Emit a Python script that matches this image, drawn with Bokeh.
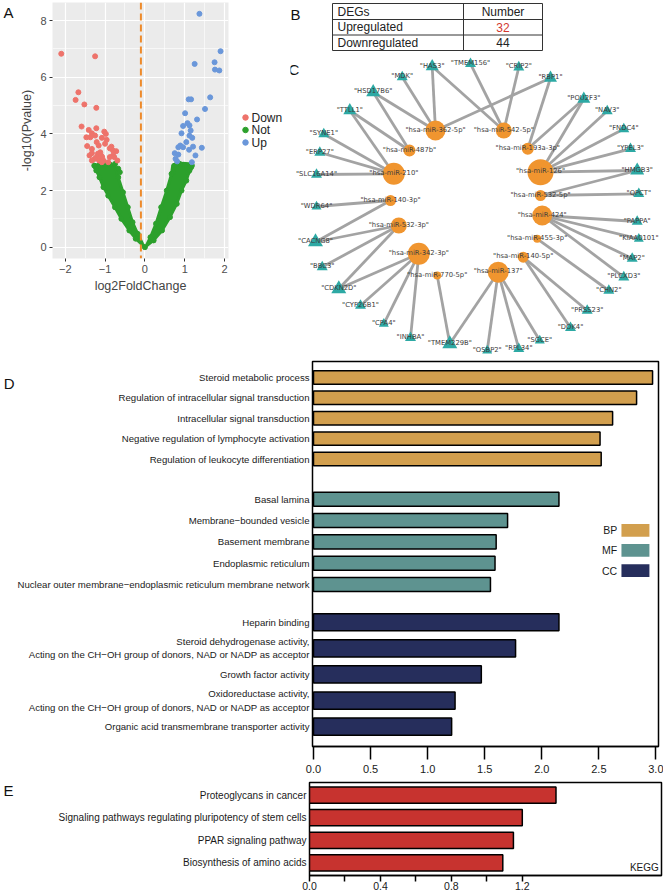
from bokeh.plotting import figure
from bokeh.models import Range1d, FixedTicker, LinearAxis, Span, NumeralTickFormatter
from bokeh.layouts import column, row
from bokeh.embed import file_html
from bokeh.resources import INLINE
from bokeh.core.properties import value

FONT = "Liberation Sans"

# ---------------- Panel A : volcano plot ----------------
down_x = [-2.10, -1.25, -1.67, -1.74, -1.52, -1.22, -1.59, -1.41, -1.22, -1.02, -0.98, -1.33, -1.37, -1.47,
          -1.08, -0.96, -1.21, -1.16, -1.45, -0.84, -0.88, -1.33, -0.80, -1.12, -0.72, -1.39, -1.18, -1.10,
          -0.80, -1.33, -1.21, -1.12, -1.07, -0.77, -0.69, -1.26, -1.04, -1.15, -1.00, -1.25, -0.88, -1.33,
          -1.08, -0.92]
down_y = [6.83, 6.74, 5.47, 5.20, 5.04, 4.92, 4.26, 4.14, 4.20, 4.08, 4.00, 4.02, 3.88, 3.88,
          3.86, 3.79, 3.71, 3.59, 3.57, 3.55, 3.49, 3.47, 3.41, 3.35, 3.39, 3.24, 3.30, 3.24,
          3.24, 3.32, 3.18, 3.16, 3.18, 3.18, 3.06, 3.12, 3.06, 3.06, 3.65, 3.94, 3.18, 3.06,
          3.00, 3.00]
up_x = [1.37, 1.90, 1.75, 1.25, 1.76, 1.87, 1.64, 1.10, 1.16, 1.51, 1.01, 1.31, 1.07, 0.96, 1.12, 1.15,
        0.92, 1.12, 1.19, 1.04, 0.89, 0.96, 0.84, 1.43, 1.11, 1.21, 0.75, 0.84, 1.27, 0.77, 0.81, 1.18]
up_y = [8.24, 6.92, 6.53, 6.47, 6.27, 6.24, 5.29, 5.22, 5.22, 4.88, 4.73, 4.51, 4.38, 4.28, 4.30, 4.12,
        4.02, 3.94, 3.86, 3.71, 3.59, 3.53, 3.53, 3.51, 3.44, 3.55, 3.32, 3.27, 3.24, 3.12, 3.03, 3.00]
# outline of the dense cloud of non-significant genes (left and right arm)
not_left_x = [0.0, -0.23, -0.39, -0.59, -0.75, -0.92, -1.04, -1.14, -1.22, -1.27, -1.12, -0.95, -0.75,
              -0.67, -0.55, -0.43, -0.31, -0.18, -0.06]
not_left_y = [0.0, 0.30, 0.59, 1.00, 1.41, 1.82, 2.12, 2.47, 2.71, 2.88, 2.95, 2.95, 2.88,
              2.47, 1.94, 1.41, 0.88, 0.47, 0.12]
not_right_x = [0.0, 0.22, 0.43, 0.63, 0.80, 0.92, 1.04, 1.12, 1.18, 1.10, 0.95, 0.80, 0.70,
               0.67, 0.55, 0.41, 0.28, 0.14, 0.04]
not_right_y = [0.0, 0.24, 0.59, 1.06, 1.53, 2.00, 2.35, 2.71, 2.88, 2.95, 2.96, 2.92, 2.90,
               2.59, 2.00, 1.41, 0.83, 0.35, 0.06]
not_x = [-1.23, -1.12, -1.00, -0.88, -0.75, -0.67, -0.63, 0.72, 0.75, 0.88, 1.00, 1.08, 1.16,
         -0.23, -0.39, -0.59, -0.75, -0.92, -1.04, -1.14, -1.22, -1.27, -0.67, -0.55, -0.43, -0.31, -0.18,
         0.22, 0.43, 0.63, 0.80, 0.92, 1.04, 1.12, 1.18, 0.67, 0.55, 0.41, 0.28, 0.14, 0.0]
not_y = [2.82, 2.88, 2.92, 2.92, 2.94, 2.77, 2.65, 2.65, 2.88, 2.94, 2.88, 2.65, 2.82,
         0.30, 0.59, 1.00, 1.41, 1.82, 2.12, 2.47, 2.71, 2.88, 2.47, 1.94, 1.41, 0.88, 0.47,
         0.24, 0.59, 1.06, 1.53, 2.00, 2.35, 2.71, 2.88, 2.59, 2.00, 1.41, 0.83, 0.35, 0.0]
fc_line = -0.1
x_ticks_A = [-2, -1, 0, 1, 2]
y_ticks_A = [0, 2, 4, 6, 8]
legend_labels_A = ["Down", "Not", "Up"]

RED, GREEN, BLUE = "#EE736B", "#2CA02C", "#6A97DA"
legend_colors_A = [RED, GREEN, BLUE]


def panel_letter(p, letter, y, standoff, size="15px"):
    """Extra left axis carrying a single tick label used as the panel letter."""
    ax = LinearAxis(ticker=FixedTicker(ticks=[y]), major_label_overrides={y: letter},
                    major_label_text_font=FONT, major_label_text_font_size=size,
                    major_label_text_color="#111111", major_label_standoff=standoff,
                    major_tick_out=0, major_tick_in=0, axis_label_standoff=0,
                    major_tick_line_color=None, minor_tick_line_color=None, axis_line_color=None)
    p.add_layout(ax, "left")


def plain_canvas(width, height, x0, x1, y0, y1):
    p = figure(width=width, height=height, x_range=Range1d(x0, x1), y_range=Range1d(y0, y1),
               output_backend="svg", toolbar_location=None, min_border=0)
    p.axis.visible = False
    p.grid.visible = False
    p.outline_line_color = None
    return p


pA = figure(width=230, height=358, x_range=Range1d(-2.32, 2.10), y_range=Range1d(-0.40, 8.64),
            output_backend="svg", toolbar_location=None,
            min_border_left=48, min_border_right=2, min_border_top=2, min_border_bottom=100)
pA.background_fill_color = "#EBEBEB"
pA.outline_line_color = None
pA.xaxis.ticker = FixedTicker(ticks=x_ticks_A, minor_ticks=[-1.5, -0.5, 0.5, 1.5])
pA.yaxis.ticker = FixedTicker(ticks=y_ticks_A, minor_ticks=[1, 3, 5, 7])
for g in (pA.xgrid, pA.ygrid):
    g.grid_line_color = "white"
    g.grid_line_width = 1.2
    g.minor_grid_line_color = "white"
    g.minor_grid_line_width = 0.6
for ax in (pA.xaxis, pA.yaxis):
    ax.axis_line_color = None
    ax.major_tick_line_color = "#333333"
    ax.major_tick_out = 3
    ax.major_tick_in = 0
    ax.minor_tick_line_color = None
    ax.major_label_text_font_size = "11px"
    ax.major_label_text_color = "#4D4D4D"
    ax.major_label_text_font = FONT
    ax.major_label_standoff = 2
    ax.axis_label_text_font = FONT
    ax.axis_label_text_font_size = "12.5px"
    ax.axis_label_text_font_style = "normal"
    ax.axis_label_standoff = 3
pA.xaxis.axis_label = "log2FoldChange"
pA.yaxis.axis_label = "-log10(Pvalue)"
panel_letter(pA, "A", 8.30, 4)

pA.patch(not_left_x, not_left_y, fill_color=GREEN, line_color=GREEN, line_width=3)
pA.patch(not_right_x, not_right_y, fill_color=GREEN, line_color=GREEN, line_width=3)
pA.scatter(not_x, not_y, size=5, color=GREEN)
pA.scatter(down_x, down_y, size=5, color=RED)
pA.scatter(up_x, up_y, size=5, color=BLUE)
pA.add_layout(Span(location=fc_line, dimension="height", line_color="#EE8A2A",
                   line_width=2, line_dash="7 4"))

# legend of panel A, drawn in its own small canvas (pixel coordinates)
pLeg = plain_canvas(60, 358, 230, 290, 358, 0)
leg_rows = [117, 129.5, 142]
pLeg.scatter(x=[245] * 3, y=leg_rows, size=5.5, color=legend_colors_A)
pLeg.text(x=[251] * 3, y=leg_rows, text=legend_labels_A, text_font=value(FONT), text_font_size="12px",
          text_baseline="middle", text_align="left", text_color="#222222")

# ---------------- Panel B : table, Panel C : network ----------------
table_col1 = ["DEGs", "Upregulated", "Downregulated"]
table_col2 = ["Number", "32", "44"]
table_col2_colors = ["#222222", "#D2382F", "#222222"]

gene_names = ["HAS3", "TMEM156", "CRIP2", "RBP1", "MDK", "HSD17B6", "TTLL1", "SYNE1", "ERP27",
              "SLC16A14", "WDR64", "CACNG8", "BBC3", "CDKN2D", "CYP26B1", "CPA4", "INHBA", "TMEM229B",
              "OSBP2", "RPL34", "SGCE", "DOK4", "PRSS23", "CHN2", "PLCXD3", "MAP2", "KIAA0101", "PAPPA",
              "QPCT", "HMGB3", "YPEL3", "FNDC4", "NAV3", "POU2F3"]
gene_x = [431.7, 470.0, 518.3, 550.0, 401.7, 372.7, 349.3, 323.3, 319.3, 316.0, 316.0, 315.0, 321.7,
          338.3, 360.0, 383.3, 410.0, 449.3, 486.7, 518.3, 539.3, 570.0, 586.7, 608.3, 623.3, 631.7,
          638.3, 636.7, 638.3, 636.7, 630.0, 623.3, 606.7, 583.3]
gene_y = [66.0, 63.3, 66.7, 77.5, 76.5, 91.7, 110.0, 133.5, 152.0, 174.0, 206.0, 241.5, 266.5,
          288.3, 305.0, 323.3, 337.3, 343.3, 350.0, 348.3, 340.0, 327.3, 310.0, 290.0, 276.7, 258.0,
          238.3, 221.0, 193.3, 170.0, 148.3, 128.5, 110.5, 98.5]
gene_size = [13, 11, 11, 13, 11, 14, 13, 11, 11, 11, 10, 15, 11, 15, 11, 10, 11, 15,
             10, 11, 10, 11, 11, 11, 11, 11, 10, 11, 11, 14, 11, 11, 11, 13]

mir_names = ["hsa-miR-362-5p", "hsa-miR-542-5p", "hsa-miR-487b", "hsa-miR-193a-3p", "hsa-miR-210",
             "hsa-miR-126", "hsa-miR-140-3p", "hsa-miR-532-5p", "hsa-miR-532-3p", "hsa-miR-424",
             "hsa-miR-455-3p", "hsa-miR-342-3p", "hsa-miR-140-5p", "hsa-miR-770-5p", "hsa-miR-137"]
mir_x = [435.0, 503.3, 409.0, 527.3, 393.3, 540.0, 390.0, 540.0, 398.3, 541.7, 536.7, 418.3, 522.7, 436.7, 497.7]
mir_y = [130.0, 130.0, 150.0, 148.3, 173.3, 171.7, 200.0, 195.0, 225.0, 215.0, 238.3, 253.3, 256.7, 275.0, 271.7]
mir_size = [20, 16, 12, 12, 22, 26, 11, 11, 16, 20, 8, 22, 11, 8, 21]

edges = [("hsa-miR-362-5p", "HAS3"), ("hsa-miR-362-5p", "MDK"), ("hsa-miR-362-5p", "HSD17B6"),
         ("hsa-miR-362-5p", "RBP1"), ("hsa-miR-542-5p", "HAS3"), ("hsa-miR-542-5p", "TMEM156"),
         ("hsa-miR-542-5p", "CRIP2"), ("hsa-miR-487b", "HSD17B6"), ("hsa-miR-487b", "TTLL1"),
         ("hsa-miR-193a-3p", "RBP1"), ("hsa-miR-193a-3p", "POU2F3"), ("hsa-miR-210", "TTLL1"),
         ("hsa-miR-210", "SYNE1"), ("hsa-miR-210", "ERP27"), ("hsa-miR-210", "SLC16A14"),
         ("hsa-miR-126", "POU2F3"), ("hsa-miR-126", "NAV3"), ("hsa-miR-126", "FNDC4"),
         ("hsa-miR-126", "YPEL3"), ("hsa-miR-126", "HMGB3"), ("hsa-miR-532-5p", "HMGB3"),
         ("hsa-miR-532-5p", "QPCT"), ("hsa-miR-140-3p", "WDR64"), ("hsa-miR-140-3p", "CACNG8"),
         ("hsa-miR-532-3p", "CACNG8"), ("hsa-miR-532-3p", "BBC3"), ("hsa-miR-532-3p", "CDKN2D"),
         ("hsa-miR-424", "PAPPA"), ("hsa-miR-424", "KIAA0101"), ("hsa-miR-424", "MAP2"),
         ("hsa-miR-424", "PLCXD3"), ("hsa-miR-455-3p", "CHN2"), ("hsa-miR-342-3p", "CDKN2D"),
         ("hsa-miR-342-3p", "CYP26B1"), ("hsa-miR-342-3p", "CPA4"), ("hsa-miR-342-3p", "INHBA"),
         ("hsa-miR-140-5p", "PRSS23"), ("hsa-miR-140-5p", "DOK4"), ("hsa-miR-770-5p", "TMEM229B"),
         ("hsa-miR-137", "TMEM229B"), ("hsa-miR-137", "OSBP2"), ("hsa-miR-137", "RPL34"),
         ("hsa-miR-137", "SGCE")]

pBC = plain_canvas(373, 358, 290, 663, 358, 0)

# table geometry (layout only)
t_left, t_mid, t_right = 332, 463, 542
t_rows = [3, 19, 34.5, 50]
pBC.segment(x0=[t_left] * 4, y0=t_rows, x1=[t_right] * 4, y1=t_rows, line_color="#333333", line_width=1)
pBC.segment(x0=[t_left, t_mid, t_right], y0=[t_rows[0]] * 3, x1=[t_left, t_mid, t_right],
            y1=[t_rows[-1]] * 3, line_color="#333333", line_width=1)
row_mid = [(t_rows[i] + t_rows[i + 1]) / 2 for i in range(3)]
pBC.text(x=[t_left + 5] * 3, y=row_mid, text=table_col1, text_font=value(FONT), text_font_size="12px",
         text_baseline="middle", text_align="left", text_color="#222222")
pBC.text(x=[(t_mid + t_right) / 2] * 3, y=row_mid, text=table_col2, text_font=value(FONT),
         text_font_size="12px", text_baseline="middle", text_align="center", text_color=table_col2_colors)
pBC.text(x=[290, 288], y=[5, 60], text=["B", "C"], text_font=value(FONT), text_font_size="15px",
         text_baseline="top", text_color="#111111")

pos = {n: (x, y) for n, x, y in zip(gene_names, gene_x, gene_y)}
pos.update({n: (x, y) for n, x, y in zip(mir_names, mir_x, mir_y)})
pBC.segment(x0=[pos[a][0] for a, b in edges], y0=[pos[a][1] for a, b in edges],
            x1=[pos[b][0] for a, b in edges], y1=[pos[b][1] for a, b in edges],
            line_color="#A3A3A3", line_width=2.8)
pBC.scatter(gene_x, gene_y, marker="triangle", size=gene_size, fill_color="#2DA9A4", line_color=None)
pBC.scatter(mir_x, mir_y, marker="circle", size=mir_size, fill_color="#F0952F", line_color=None)
pBC.text(x=gene_x + mir_x, y=[v - 1 for v in gene_y + mir_y],
         text=['"%s"' % n for n in gene_names + mir_names], text_font=value("DejaVu Sans"),
         text_font_size="6.8px", text_align="center", text_baseline="middle", text_color="#3C3C3C")

# ---------------- Panel D : GO enrichment ----------------
go_terms = ["Steroid metabolic process", "Regulation of intracellular signal transduction",
            "Intracellular signal transduction", "Negative regulation of lymphocyte activation",
            "Regulation of leukocyte differentiation",
            "Basal lamina", "Membrane\u2212bounded vesicle", "Basement membrane", "Endoplasmic reticulum",
            "Nuclear outer membrane\u2212endoplasmic reticulum membrane network",
            "Heparin binding",
            "Steroid dehydrogenase activity,\nActing on the CH\u2212OH group of donors, NAD or NADP as acceptor",
            "Growth factor activity",
            "Oxidoreductase activity,\nActing on the CH\u2212OH group of donors, NAD or NADP as acceptor",
            "Organic acid transmembrane transporter activity"]
go_values = [2.97, 2.83, 2.62, 2.51, 2.52, 2.15, 1.70, 1.60, 1.59, 1.55, 2.15, 1.77, 1.47, 1.24, 1.21]
go_class = ["BP", "BP", "BP", "BP", "BP", "MF", "MF", "MF", "MF", "MF", "CC", "CC", "CC", "CC", "CC"]
class_order = ["BP", "MF", "CC"]
class_colors = {"BP": "#D29F4E", "MF": "#5E9390", "CC": "#262E5C"}
go_x_ticks = [0, 0.5, 1.0, 1.5, 2.0, 2.5, 3.0]

# layout of the bar rows (slot units): each class block has its own row pitch, as in the figure
class_pitch = {"BP": 1.0, "MF": 1.045, "CC": 1.28}
class_start = {"BP": 0.78, "MF": 6.75, "CC": 12.78}
go_pos, go_thick = [], []
count = {c: 0 for c in class_order}
for c in go_class:
    go_pos.append(class_start[c] + count[c] * class_pitch[c])
    go_thick.append(0.66 * class_pitch[c])
    count[c] += 1

pD = figure(width=663, height=421, x_range=Range1d(-0.0088, 3.022), y_range=Range1d(18.87, 0),
            output_backend="svg", toolbar_location=None,
            min_border_left=312, min_border_right=5, min_border_top=3, min_border_bottom=33)
pD.grid.visible = False
pD.outline_line_color = "black"
pD.outline_line_width = 1.5
pD.hbar(y=go_pos, left=0, right=go_values, height=go_thick,
        fill_color=[class_colors[c] for c in go_class], line_color="black", line_width=1.5)
pD.yaxis.ticker = FixedTicker(ticks=go_pos)
pD.yaxis.major_label_overrides = {p: t for p, t in zip(go_pos, go_terms)}
pD.yaxis.major_tick_line_color = None
pD.yaxis.major_tick_out = 0
pD.yaxis.major_tick_in = 0
pD.yaxis.axis_label_standoff = 0
pD.yaxis.minor_tick_line_color = None
pD.yaxis.axis_line_color = None
pD.yaxis.major_label_standoff = 3
pD.yaxis.major_label_text_font = FONT
pD.yaxis.major_label_text_font_size = "9.6px"
pD.yaxis.major_label_text_color = "#1A1A1A"
pD.xaxis.ticker = FixedTicker(ticks=go_x_ticks)
pD.xaxis.formatter = NumeralTickFormatter(format="0.0")
pD.xaxis.axis_line_width = 1.5
pD.xaxis.major_tick_line_width = 1.5
pD.xaxis.major_tick_out = 13
pD.xaxis.major_tick_in = 0
pD.xaxis.minor_tick_line_color = None
pD.xaxis.major_label_standoff = 5
pD.xaxis.major_label_text_font = FONT
pD.xaxis.major_label_text_font_size = "11px"
pD.xaxis.major_label_text_color = "#1A1A1A"
panel_letter(pD, "D", 1.08, 0)
# legend (BP / MF / CC)
leg_y = [8.28, 9.26, 10.25]
pD.rect(x=[2.82] * 3, y=leg_y, width=0.245, height=0.62,
        fill_color=[class_colors[c] for c in class_order], line_color=None)
pD.text(x=[2.66] * 3, y=leg_y, text=class_order, text_font=value(FONT), text_font_size="10.5px",
        text_align="right", text_baseline="middle", text_color="#1A1A1A")

# ---------------- Panel E : KEGG ----------------
kegg_terms = ["Proteoglycans in cancer", "Signaling pathways regulating pluripotency of stem cells",
              "PPAR signaling pathway", "Biosynthesis of amino acids"]
kegg_values = [1.39, 1.20, 1.15, 1.09]
kegg_x_ticks = [0, 0.2, 0.4, 0.6, 0.8, 1.0, 1.2]
kegg_x_labels = {0: "0.0", 0.2: "", 0.4: "0.4", 0.6: "", 0.8: "0.8", 1.0: "", 1.2: "1.2"}
kegg_pos = list(range(1, len(kegg_terms) + 1))

pE = figure(width=663, height=113, x_range=Range1d(0, 1.985), y_range=Range1d(4.56, 0.44),
            output_backend="svg", toolbar_location=None,
            min_border_left=309, min_border_right=2, min_border_top=3, min_border_bottom=16)
pE.grid.visible = False
pE.outline_line_color = "black"
pE.outline_line_width = 1.5
pE.hbar(y=kegg_pos, left=0, right=kegg_values, height=0.72, fill_color="#C7332F",
        line_color="black", line_width=1.5)
pE.yaxis.ticker = FixedTicker(ticks=kegg_pos)
pE.yaxis.major_label_overrides = {p: t for p, t in zip(kegg_pos, kegg_terms)}
pE.yaxis.major_tick_line_color = None
pE.yaxis.major_tick_out = 0
pE.yaxis.major_tick_in = 0
pE.yaxis.axis_label_standoff = 0
pE.yaxis.minor_tick_line_color = None
pE.yaxis.axis_line_color = None
pE.yaxis.major_label_standoff = 3
pE.yaxis.major_label_text_font = FONT
pE.yaxis.major_label_text_font_size = "10px"
pE.yaxis.major_label_text_color = "#1A1A1A"
pE.xaxis.ticker = FixedTicker(ticks=kegg_x_ticks)
pE.xaxis.major_label_overrides = kegg_x_labels
pE.xaxis.axis_line_width = 1.5
pE.xaxis.major_tick_line_width = 1.5
pE.xaxis.major_tick_out = 6
pE.xaxis.major_tick_in = 0
pE.xaxis.minor_tick_line_color = None
pE.xaxis.major_label_standoff = 0
pE.xaxis.major_label_text_font = FONT
pE.xaxis.major_label_text_font_size = "10.5px"
pE.xaxis.major_label_text_color = "#1A1A1A"
panel_letter(pE, "E", 0.80, 42)
pE.text(x=[1.97], y=[4.2], text=["KEGG"], text_font=value(FONT), text_font_size="10px",
        text_align="right", text_baseline="middle", text_color="#1A1A1A")

top = row(column(pA), column(pLeg), column(pBC))
layout = column(top, column(pD), column(pE))
open("out.html", "w").write(file_html(layout, INLINE))
